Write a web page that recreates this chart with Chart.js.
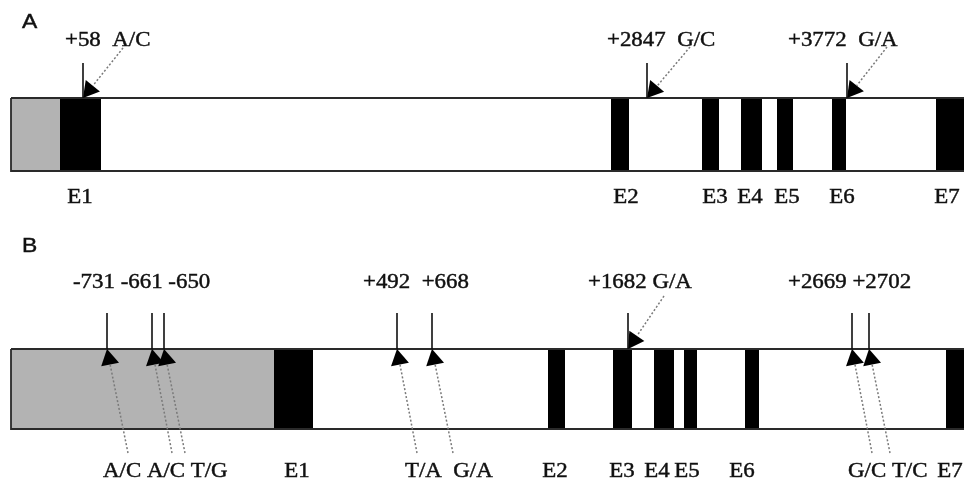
<!DOCTYPE html>
<html>
<head>
<meta charset="utf-8">
<title>Gene map</title>
<script src="https://cdn.jsdelivr.net/npm/chart.js@4.4.1/dist/chart.umd.min.js"></script>
<style>
    html, body { margin: 0; padding: 0; background: #fff; }
    #wrap { width: 964px; height: 484px; }
</style>
</head>
<body>
<div id="wrap"><canvas id="gene-map" width="964" height="484"></canvas></div>
<script>
// Positions are schematic units (left edge of the gene = 11)
const exonNames = ['E1', 'E2', 'E3', 'E4', 'E5', 'E6', 'E7'];
const geneEnd = 980; // gene runs off the right edge

// Panel A
const promoterA = [11, 60];
const exonStartA = [60, 611, 702, 741, 777, 832, 936];
const exonEndA = [101, 629, 719, 762, 793, 846, 980];
const snpPosA = [83, 647, 847];
const snpNameA = ['+58', '+2847', '+3772'];
const snpAlleleA = ['A/C', 'G/C', 'G/A'];

// Panel B
const promoterB = [11, 274];
const exonStartB = [274, 548, 613, 654, 684, 745, 946];
const exonEndB = [313, 565, 632, 674, 697, 759, 980];
const snpPosB = [107, 152, 164, 397, 432, 628, 852, 869];
const snpNameB = ['-731', '-661', '-650', '+492', '+668', '+1682', '+2669', '+2702'];
const snpAlleleB = ['A/C', 'A/C', 'T/G', 'T/A', 'G/A', 'G/A', 'G/C', 'T/C'];

// ---- layout (vertical placement, callouts, label anchors) ----
const trackA = { top: 98, bottom: 171, stemTop: 63 };
const trackB = { top: 349, bottom: 429, stemTop: 313 };
// where each dotted callout starts (near its allele label)
const calloutA = [[123, 48], [690, 47], [887, 47]];
const calloutB = [[128, 453], [172, 453], [185, 453], [417, 453], [453, 453], [664, 296], [872, 453], [890, 453]];
const exonLabelA = [80, 626, 715, 750, 787, 842, 947];
const exonLabelB = [297, 555, 622, 657, 687, 742, 950];

const HEAD_R = 10.5;    // arrow head radius
const STRETCH = 1.09;   // the source figure is slightly widened
const SERIF = '21px "Liberation Serif", "Times New Roman", serif';
const SANS = '21px "Liberation Sans", Arial, sans-serif';

const texts = [
    { t: 'A', x: 22, y: 28, font: SANS },
    { t: 'B', x: 22, y: 252, font: SANS },
    { t: `${snpNameA[0]}  ${snpAlleleA[0]}`, x: 65, y: 46 },
    { t: `${snpNameA[1]}  ${snpAlleleA[1]}`, x: 607, y: 46 },
    { t: `${snpNameA[2]}  ${snpAlleleA[2]}`, x: 788, y: 46 },
    { t: snpNameB.slice(0, 3).join(' '), x: 73, y: 288 },
    { t: snpNameB.slice(3, 5).join('  '), x: 363, y: 288 },
    { t: `${snpNameB[5]} ${snpAlleleB[5]}`, x: 588, y: 288 },
    { t: snpNameB.slice(6, 8).join(' '), x: 788, y: 288 },
    { t: snpAlleleB.slice(0, 3).join(' '), x: 103, y: 477 },
    { t: snpAlleleB.slice(3, 5).join('  '), x: 405, y: 477 },
    { t: snpAlleleB.slice(6, 8).join(' '), x: 848, y: 477 },
];
exonNames.forEach((n, i) => {
    texts.push({ t: n, x: exonLabelA[i], y: 203, center: true });
    texts.push({ t: n, x: exonLabelB[i], y: 477, center: true });
});

function box(x0, x1, top, bottom, color, order) {
    return {
        data: [{ x: x0, y: top }, { x: x1, y: top }],
        fill: { value: bottom },
        backgroundColor: color,
        borderColor: 'transparent',
        borderWidth: 0,
        order,
    };
}

function outline(track) {
    return {
        data: [
            { x: 11, y: track.top }, { x: geneEnd, y: track.top },
            { x: geneEnd, y: track.bottom }, { x: 11, y: track.bottom }, { x: 11, y: track.top },
        ],
        borderColor: '#2a2a2a',
        borderWidth: 1.8,
        fill: false,
        order: 1,
    };
}

function arrow(tipX, tipY, from) {
    const dx = tipX - from[0], dy = tipY - from[1];
    const len = Math.hypot(dx, dy);
    const ux = dx / len, uy = dy / len;
    return {
        centre: { x: tipX - ux * HEAD_R, y: tipY - uy * HEAD_R },
        base: { x: tipX - ux * HEAD_R * 1.5, y: tipY - uy * HEAD_R * 1.5 },
        rotation: Math.atan2(ux, -uy) * 180 / Math.PI,
    };
}

const datasets = [];

[[trackA, promoterA, exonStartA, exonEndA, snpPosA, calloutA],
 [trackB, promoterB, exonStartB, exonEndB, snpPosB, calloutB]].forEach(([track, prom, starts, ends, snps, callouts]) => {
    datasets.push(box(prom[0], prom[1], track.top, track.bottom, '#b3b3b3', 4));
    starts.forEach((s, i) => datasets.push(box(s, ends[i], track.top, track.bottom, '#000', 3)));
    datasets.push(outline(track));

    const heads = snps.map((p, i) => arrow(p, track.top, callouts[i]));
    snps.forEach((p, i) => {
        // stem
        datasets.push({
            data: [{ x: p, y: track.stemTop }, { x: p, y: track.top }],
            borderColor: '#111',
            borderWidth: 1.6,
            order: 0,
        });
        // dotted callout
        datasets.push({
            data: [{ x: callouts[i][0], y: callouts[i][1] }, heads[i].base],
            borderColor: '#7a7a7a',
            borderWidth: 1.5,
            borderDash: [2, 2],
            order: 0,
        });
    });
    datasets.push({
        data: heads.map(h => h.centre),
        showLine: false,
        pointStyle: 'triangle',
        pointRadius: HEAD_R,
        pointRotation: heads.map(h => h.rotation),
        pointBackgroundColor: '#000',
        pointBorderColor: '#000',
        pointBorderWidth: 0,
        order: 0,
    });
});

const textLayer = {
    id: 'textLayer',
    afterDatasetsDraw(chart) {
        const { ctx, scales: { x, y } } = chart;
        ctx.save();
        ctx.fillStyle = '#111';
        ctx.strokeStyle = '#111';
        ctx.lineWidth = 0.45; // scanned original looks a little heavier
        ctx.textBaseline = 'alphabetic';
        ctx.textAlign = 'left';
        texts.forEach(item => {
            ctx.font = item.font || SERIF;
            let px = x.getPixelForValue(item.x);
            if (item.center) px -= ctx.measureText(item.t).width * STRETCH / 2;
            ctx.save();
            ctx.translate(px, y.getPixelForValue(item.y));
            ctx.scale(STRETCH, 1);
            ctx.fillText(item.t, 0, 0);
            ctx.strokeText(item.t, 0, 0);
            ctx.restore();
        });
        ctx.restore();
    }
};

new Chart(document.getElementById('gene-map'), {
    type: 'line',
    data: { datasets },
    options: {
        responsive: false,
        animation: false,
        devicePixelRatio: 1,
        events: [],
        layout: { padding: 0, autoPadding: false },
        elements: {
            point: { radius: 0 },
            line: { tension: 0 },
        },
        plugins: {
            legend: { display: false },
            tooltip: { enabled: false },
        },
        scales: {
            x: { type: 'linear', min: 0, max: 964, display: false },
            y: { type: 'linear', min: 0, max: 484, reverse: true, display: false },
        },
    },
    plugins: [textLayer],
});
</script>
</body>
</html>
